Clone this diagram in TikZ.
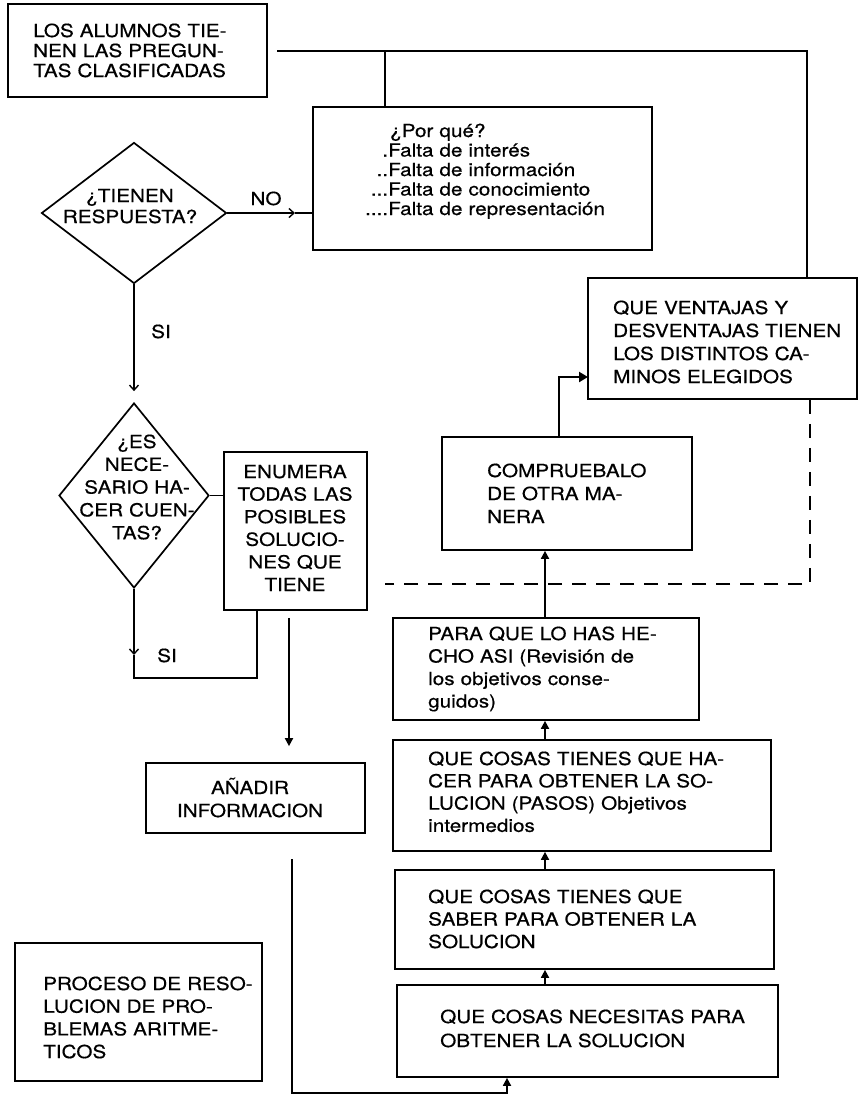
\documentclass[tikz,border=0pt]{standalone}
\usepackage{fontspec}
\setmainfont{TeX Gyre Heros}[FakeStretch=1.15,FakeBold=0.6]
\usetikzlibrary{arrows.meta,shapes.geometric}
\newcommand\myfs[2]{\fontsize{#1}{#2}\selectfont}
\newcommand\dotsl[1]{\leavevmode\llap{#1}}
\begin{document}
\begin{tikzpicture}[x=1pt,y=-1pt,
  box/.style={draw, line width=1.7pt, inner sep=0pt, rectangle},
  dia/.style={draw, line width=1.7pt, diamond, inner sep=0pt},
  txt/.style={inner sep=0pt, anchor=base west, align=left},
  ctxt/.style={inner sep=0pt, anchor=base, align=center},
  ln/.style={line width=1.7pt},
  arr/.style={line width=1.7pt, -{Triangle[length=8pt,width=8pt]}},
  arrthick/.style={line width=2.6pt, -{Triangle[length=9pt,width=10pt]}},
  barb/.style={line width=1.4pt, -{Straight Barb[length=5pt,width=9pt]}},
  dsh/.style={line width=1.4pt, dash pattern=on 14pt off 10pt},
]
\useasboundingbox (0,0) rectangle (858,1096);

% boxes
\node[box, minimum width=259pt, minimum height=93pt] (A) at (137.5,50.5) {};
\node[box, minimum width=339pt, minimum height=143pt] (B) at (482.5,178.5) {};
\node[dia, minimum width=185pt, minimum height=141pt] (d1) at (134,213) {};
\node[dia, minimum width=150pt, minimum height=185pt] (d2) at (134,495.5) {};
\node[box, minimum width=143pt, minimum height=158pt] (enum) at (295.5,531) {};
\node[box, minimum width=219pt, minimum height=70pt] (anad) at (255.5,798) {};
\node[box, minimum width=247pt, minimum height=138pt] (proc) at (138.5,1012) {};
\node[box, minimum width=269pt, minimum height=121pt] (vent) at (722.5,338.5) {};
\node[box, minimum width=250pt, minimum height=113pt] (comp) at (567,493.5) {};
\node[box, minimum width=306pt, minimum height=102pt] (para) at (546,669) {};
\node[box, minimum width=378pt, minimum height=111pt] (hacer) at (582,795.5) {};
\node[box, minimum width=379pt, minimum height=99pt] (saber) at (584.5,919.5) {};
\node[box, minimum width=381pt, minimum height=92pt] (nec) at (587.5,1031) {};

% texts
\node[txt, text width=240pt, font=\myfs{18}{20}] (tA) at (33,37)
  {LOS ALUMNOS TIE-\\NEN LAS PREGUN-\\TAS CLASIFICADAS};
\node[txt, text width=255pt, font=\myfs{18}{19.5}] (tB) at (388,137)
  {\hspace*{2pt}¿Por qué?\\\dotsl{.}Falta de interés\\\dotsl{..}Falta de información\\\dotsl{...}Falta de conocimiento\\\dotsl{....}Falta de representación};
\node[ctxt, text width=150pt, font=\myfs{18}{21}] (td1) at (130,202) {¿TIENEN\\RESPUESTA?};
\node[ctxt, font=\myfs{18}{21}] (tno) at (266,205) {NO};
\node[ctxt, font=\myfs{18}{21}] (tsi1) at (161,338) {SI};
\node[ctxt, text width=130pt, font=\myfs{18}{22.8}] (td2) at (137,448)
  {¿ES\\NECE-\\SARIO HA-\\CER CUEN-\\TAS?};
\node[ctxt, text width=140pt, font=\myfs{18}{22.6}] (tenum) at (295,478)
  {ENUMERA\\TODAS LAS\\POSIBLES\\SOLUCIO-\\NES QUE\\TIENE};
\node[ctxt, font=\myfs{18}{21}] (tsi2) at (167,662) {SI};
\node[ctxt, text width=200pt, font=\myfs{18}{23}] (tanad) at (250,794) {AÑADIR\\INFORMACION};
\node[txt, text width=215pt, font=\myfs{18}{22.7}] (tproc) at (43,990)
  {PROCESO DE RESO-\\LUCION DE PRO-\\BLEMAS ARITME-\\TICOS};
\node[txt, text width=240pt, font=\myfs{18}{23}] (tvent) at (613,314)
  {QUE VENTAJAS Y\\DESVENTAJAS TIENEN\\LOS DISTINTOS CA-\\MINOS ELEGIDOS};
\node[txt, text width=200pt, font=\myfs{18}{23}] (tcomp) at (487,477)
  {COMPRUEBALO\\DE OTRA MA-\\NERA};
\node[txt, text width=265pt, font=\myfs{18}{22.5}] (tpara) at (428,640)
  {PARA QUE LO HAS HE-\\CHO ASI (Revisión de\\los objetivos conse-\\guidos)};
\node[txt, text width=340pt, font=\myfs{18}{22.3}] (thacer) at (428,765)
  {QUE COSAS TIENES QUE HA-\\CER PARA OBTENER LA SO-\\LUCION (PASOS) Objetivos\\intermedios};
\node[txt, text width=340pt, font=\myfs{18}{22.5}] (tsaber) at (428,903)
  {QUE COSAS TIENES QUE\\SABER PARA OBTENER LA\\SOLUCION};
\node[txt, text width=335pt, font=\myfs{18}{24}] (tnec) at (440,1023)
  {QUE COSAS NECESITAS PARA\\OBTENER LA SOLUCION};

% coordinates
\coordinate (c5) at (277,51);
\coordinate (j1) at (385,51);
\coordinate (j2) at (807,51);
\coordinate (noarr) at (295,213);
\coordinate (c1) at (134,655);
\coordinate (c2) at (134,678);
\coordinate (c9) at (257,678);
\coordinate (ea) at (289,0);
\coordinate (c3) at (292,859);
\coordinate (c4) at (507,1093);
\coordinate (col) at (545,0);
\coordinate (cx) at (559,0);
\coordinate (j3) at (588,377);
\coordinate (c8) at (810,584);
\coordinate (c7) at (385,584);

% connectors
\draw[ln] (c5) -- (j2) -- (vent.north -| j2);
\draw[ln] (j1) -- (B.north -| j1);
\draw[barb] (d1.east) -- (noarr);
\draw[ln] (noarr) -- (B.west |- noarr);
\draw[barb, shorten >=11pt] (d1.south) -- (d2.north);
\draw[ln] (d2.east) -- (enum.west |- d2.east);
\draw[barb] (d2.south) -- (c1);
\draw[ln] (c1) -- (c2) -- (c9) -- (enum.south -| c9);
\draw[arr, shorten <=7pt, shorten >=16pt] (enum.south -| ea) -- (anad.north -| ea);
\draw[arr] (c3) |- (c4) -- (nec.south -| c4);
\draw[arr] (para.north -| col) -- (comp.south -| col);
\draw[arr] (hacer.north -| col) -- (para.south -| col);
\draw[arr] (saber.north -| col) -- (hacer.south -| col);
\draw[arr] (nec.north -| col) -- (saber.south -| col);
\draw[arrthick] (comp.north -| cx) |- (j3);
\draw[dsh] (vent.south -| c8) -- (c8) -- (c7);
\end{tikzpicture}
\end{document}
